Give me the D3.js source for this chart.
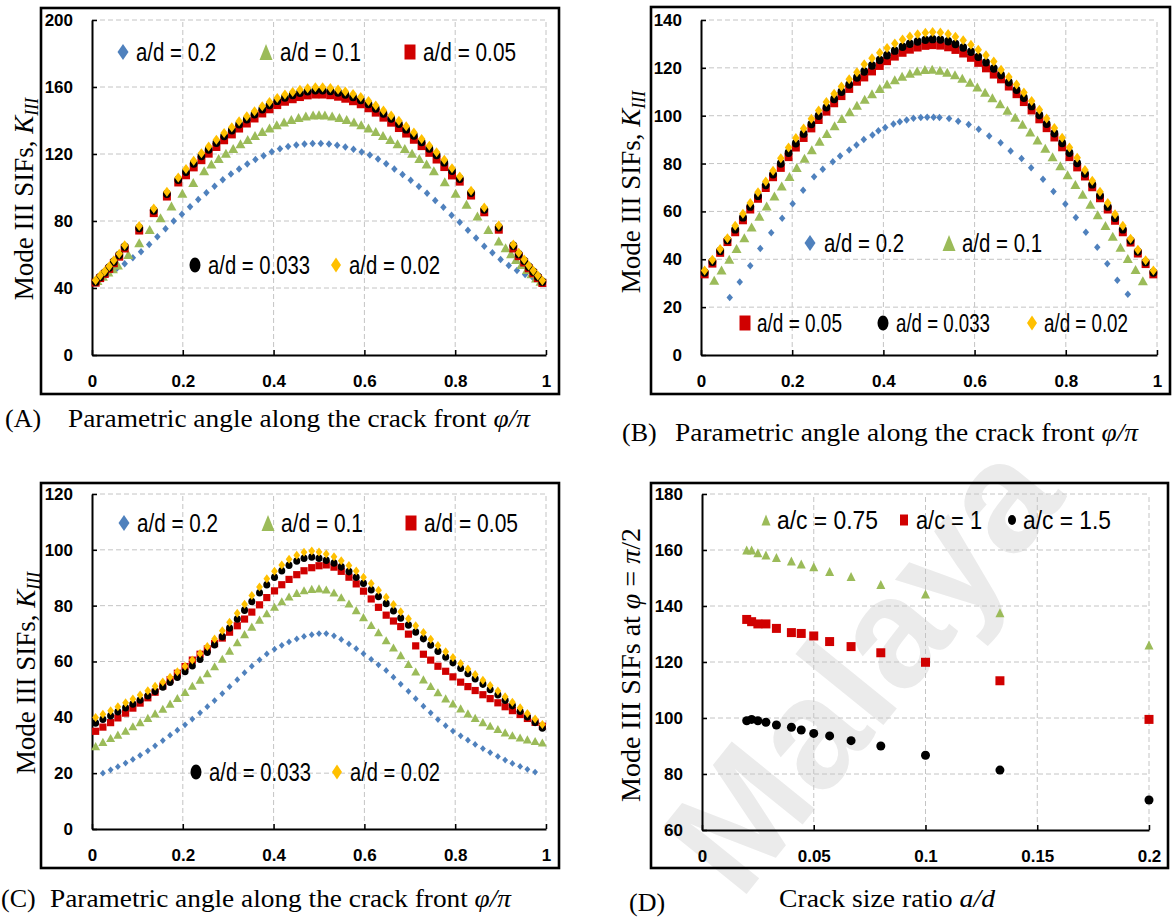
<!DOCTYPE html>
<html>
<head>
<meta charset="utf-8">
<script src="https://cdn.jsdelivr.net/npm/d3@7"></script>
<style>
  html, body { margin: 0; padding: 0; background: #fff; }
  svg { display: block; }
</style>
</head>
<body>
<svg id="fig" width="1176" height="922"></svg>
<script>
// ---------- axis ticks ----------
const phiTicks = [0, 0.2, 0.4, 0.6, 0.8, 1];
const kTicksA = [0, 40, 80, 120, 160, 200];
const kTicksB = [0, 20, 40, 60, 80, 100, 120, 140];
const kTicksC = [0, 20, 40, 60, 80, 100, 120];
const kTicksD = [60, 80, 100, 120, 140, 160, 180];
const ratioTicks = [0, 0.05, 0.1, 0.15, 0.2];

const labelsAD = ["a/d = 0.2", "a/d = 0.1", "a/d = 0.05", "a/d = 0.033", "a/d = 0.02"];
const labelsAC = ["a/c = 0.75", "a/c = 1", "a/c = 1.5"];

// ---------- panel (A) ----------
const phiA = [0.008,0.018,0.028,0.038,0.048,0.060,0.072,0.104,0.136,0.165,0.190,
  0.207,0.224,0.241,0.257,0.274,0.291,0.308,0.324,0.341,0.358,
  0.375,0.391,0.408,0.425,0.442,0.458,0.475,0.492,0.508,0.525,
  0.542,0.558,0.575,0.592,0.609,0.625,0.642,0.659,0.676,0.692,
  0.709,0.726,0.743,0.759,0.776,0.793,
  0.810,0.835,0.864,0.896,0.928,0.940,0.952,0.962,0.972,0.982,0.992];
const kA_002 = [44.6,47.4,50,53,56.5,60.5,65.5,77,87.5,97.5,106,
  111,116,120.5,124.5,128.5,132.5,136,139.5,142.5,145.5,
  148.5,151,153.5,155.5,157,158.3,159.3,159.8,159.8,159.4,
  158.5,157.3,155.8,154,151.6,149,146,143,139.8,136.5,
  132.8,129,125,121,116.5,111.5,
  106.5,98,88,77.5,66,61,57,53.5,50.5,47.5,44.5];
const kA_0033 = [43.8,46.6,49.2,52.2,55.7,59.7,64.7,75.8,86.3,96.2,104.6,
  109.4,114.3,118.8,122.7,126.7,130.7,134.2,137.7,140.7,143.7,
  146.7,149.2,151.7,153.7,155.2,156.5,157.5,158,158,157.6,
  156.7,155.5,154,152.2,149.8,147.2,144.2,141.2,138,134.7,
  131,127.2,123.3,119.4,115,110,
  105.2,96.8,86.8,76.3,65.2,60.2,56.2,52.7,49.7,46.7,43.7];
const kA_005 = [43.2,45.9,48.4,51.4,54.8,58.7,63.6,74.3,84.7,94.6,103,
  107.3,112,116.3,120.2,124.2,128.2,131.7,135.2,138.2,141.2,
  144.2,146.7,149.2,151.2,152.7,154,155,155.5,155.5,155.1,
  154.2,153,151.5,149.7,147.3,144.7,141.7,138.7,135.5,132.2,
  128.5,124.7,120.7,116.7,112.2,107.2,
  103.5,95.2,85.2,74.8,63.6,59,55.2,51.8,48.8,45.9,43];
const phiA_tri = [0.012,0.024,0.036,0.046,0.057,0.080,0.104,0.127,0.151,0.175,0.199,0.223,0.247,
  0.263,0.279,0.295,0.311,0.327,0.343,0.359,0.375,0.391,0.407,0.423,0.439,0.455,0.471,0.487,
  0.500,
  0.513,0.529,0.545,0.561,0.577,0.593,0.609,0.625,0.641,0.657,0.673,0.689,0.705,0.721,0.737,
  0.753,0.777,0.801,0.825,0.849,0.873,0.896,0.911,0.923,0.934,0.946,0.958,0.968,0.978,0.988];
const kA_01 = [44.5,47,49.5,51.5,53.8,60,67,75,82,89,96.5,103,110,
  114,117.3,120.4,123.3,126.1,128.7,131.1,133.4,135.5,137.4,139.1,140.6,141.8,142.7,143.3,
  143.5,
  143.3,142.7,141.8,140.6,139.1,137.4,135.5,133.4,131.1,128.7,126.1,123.3,120.4,117.3,114,
  110,103.5,96.5,90,83,75,68,64,60.5,57,54,51,48.5,46,44];
const phiA_dot = [0.018,0.036,0.054,0.072,0.090,0.108,0.126,0.144,0.162,0.180,
  0.198,0.216,0.234,0.252,0.270,0.288,0.306,0.324,0.342,0.360,
  0.378,0.396,0.414,0.432,0.450,0.468,0.486,0.504,0.522,0.540,
  0.558,0.576,0.594,0.612,0.630,0.648,0.666,0.684,0.702,0.720,
  0.738,0.756,0.774,0.792,0.810,0.828,0.846,0.864,0.882,0.900,
  0.918,0.936,0.954,0.972,0.990];
const kA_02 = [46,48.5,51.5,54.5,58,61.7,66,70.6,75.4,80,
  84,88.5,92.9,96.8,100.8,104.6,108,111,114,116.7,
  119,121.3,123.2,124.5,125.4,126,126.2,126.2,125.9,125.2,
  124.2,122.8,121.2,119.4,117,114.2,111.1,107.7,104.4,100.6,
  96.6,92.3,88.2,83.5,79.3,74.5,69.8,65,61,57,
  53.5,50.5,48,46,44.5];

// ---------- panel (B) ----------
const phiB = [0.008,0.025,0.042,0.058,0.075,0.092,0.108,0.125,0.142,0.158,
  0.175,0.192,0.208,0.225,0.242,0.258,0.275,0.292,0.308,0.325,
  0.342,0.358,0.375,0.392,0.408,0.425,0.442,0.458,0.475,0.492,
  0.508,0.525,0.542,0.558,0.575,0.592,0.608,0.625,0.642,0.658,
  0.675,0.692,0.708,0.725,0.742,0.758,0.775,0.792,0.808,0.825,
  0.842,0.858,0.875,0.892,0.908,0.925,0.942,0.958,0.975,0.992];
const kB_0033 = [34.5,39,43.5,48,52.5,57.5,62,66.5,71,75.5,
  80,84.5,88.5,92.5,96.5,100,103.5,107,110,113,
  116,118.5,121,123.3,125.3,127.2,128.8,130.1,131,131.7,
  132,131.8,131.1,130,128.5,126.7,124.6,122.3,119.7,117,
  114,110.8,107.5,104,100.3,96.6,92.7,88.6,84.5,80.2,
  75.8,71.3,66.7,62,57.3,52.5,47.8,43.2,38.8,34.5];
const kB_002 = [35.3,39.8,44.3,48.8,54,59,63.5,68,72.5,77,
  82.2,86.7,90.7,94.7,98.7,102.2,105.7,109.2,112.2,115.2,
  118.2,121.5,124,126.3,128.3,130.2,131.8,133.1,134,134.7,
  135,134.8,134.1,133,131.5,129.7,127.6,125.3,122.7,119.2,
  116.2,113,109.7,106.2,102.5,98.8,94.9,90.8,86.7,82.4,
  77.3,72.8,68.2,63.5,58.8,54,48.6,44,39.6,35.3];
const kB_005 = [33.7,38.2,42.7,47.2,51.3,56.3,60.8,65.3,69.8,74.3,
  78.2,82.7,86.7,90.7,94.7,98.2,101.7,105.2,108.2,111.2,
  114.2,116,118.5,120.8,122.8,124.7,126.3,127.6,128.5,129.2,
  129.5,129.3,128.6,127.5,126,124.2,122.1,119.8,117.2,115.2,
  112.2,109,105.7,102.2,98.5,94.8,90.9,86.8,82.7,78.4,
  74.6,70.1,65.5,60.8,56.1,51.3,47,42.4,38,33.7];
const phiB_tri = [0.029,0.045,0.062,0.078,0.095,0.111,0.128,0.144,0.161,0.177,
  0.194,0.210,0.227,0.243,0.260,0.276,0.293,0.309,0.326,0.342,
  0.359,0.375,0.392,0.408,0.425,0.441,0.458,0.474,0.491,0.507,
  0.524,0.540,0.557,0.573,0.590,0.606,0.623,0.639,0.656,0.672,
  0.689,0.705,0.722,0.738,0.755,0.771,0.788,0.804,0.821,0.837,
  0.854,0.870,0.887,0.903,0.920,0.936,0.953,0.969];
const kB_01 = [31.2,35.5,40,44.5,49,53.5,58,62.3,66.5,70.6,
  74.6,78.4,82.2,85.8,89.3,92.6,95.8,98.8,101.7,104.4,
  106.9,109.2,111.4,113.3,115,116.5,117.7,118.7,119.3,119.4,
  119,118.2,117.1,115.7,114,112,109.8,107.5,105,102.3,
  99.4,96.4,93.2,89.9,86.4,82.8,79.1,75.3,71.3,67.2,
  63,58.6,54.1,49.6,45,40.3,35.7,31];
const phiB_dot = [0.063,0.085,0.108,0.130,0.154,0.178,0.201,0.224,0.248,0.267,
  0.289,0.305,0.325,0.341,0.357,0.376,0.389,0.404,0.422,0.436,
  0.451,0.466,0.482,0.496,0.510,0.523,0.544,0.564,0.587,0.609,
  0.632,0.657,0.679,0.703,0.724,0.750,0.773,0.799,0.822,0.844,
  0.869,0.891,0.913,0.936];
const kB_02 = [24,30.5,37.3,44.5,51.1,57.1,63.2,68.9,74.5,77.6,
  80.8,83.2,85.7,87.8,90.1,91.9,93.7,95.1,96.5,97.5,
  98.2,98.9,99.3,99.4,99.4,99.3,98.8,97.7,96.3,94.3,
  91.5,88.7,85.3,82.1,78.3,73.5,68.3,63.1,57.5,51.3,
  45,38.1,31.2,25.4];

// ---------- panel (C) ----------
const phiC = [0.008,0.024,0.041,0.057,0.074,0.090,0.106,0.123,0.139,0.156,
  0.172,0.188,0.205,0.221,0.238,0.254,0.270,0.287,0.303,0.320,
  0.336,0.352,0.369,0.385,0.402,0.418,0.434,0.451,0.467,0.484,
  0.500,0.516,0.533,0.549,0.566,0.582,0.598,0.615,0.631,0.648,
  0.664,0.680,0.697,0.713,0.730,0.746,0.762,0.779,0.795,0.812,
  0.828,0.844,0.861,0.877,0.894,0.910,0.926,0.943,0.959,0.976,
  0.992];
const kC_002 = [39.9,41.1,42.4,43.8,45.2,46.6,48,49.5,51.1,52.7,
  54.4,56.3,58.3,60.5,62.9,65.4,68.1,71,74.1,77.3,
  80.5,83.6,86.7,89.6,92.3,94.6,96.6,98.1,99.1,99.6,
  99.2,98.5,97.5,96.1,94.4,92.4,90.2,87.9,85.5,83,
  80.4,77.8,75.3,72.8,70.4,68,65.7,63.5,61.4,59.3,
  57.3,55.3,53.3,51.4,49.4,47.4,45.4,43.4,41.4,39.4,
  37.4];
const kC_0033 = [38,39.3,40.6,42,43.4,44.8,46.2,47.7,49.3,50.9,
  52.6,54.4,56.4,58.5,60.8,63.3,66,68.9,72,75.2,
  78.4,81.5,84.6,87.5,90.2,92.5,94.5,96,97,97.4,
  97,96.3,95.3,93.9,92.2,90.2,88,85.7,83.3,80.8,
  78.2,75.6,73.1,70.6,68.2,65.9,63.7,61.6,59.6,57.6,
  55.7,53.8,51.9,50,48.1,46.1,44.2,42.2,40.2,38.2,
  36.2];
const kC_005 = [35,36.5,38.1,39.8,41.5,43.3,45.1,47,49,51.2,
  53.5,55.8,58.2,60.5,62.6,64.5,66.4,68.4,70.5,72.8,
  75.2,77.7,80.3,82.9,85.3,87.5,89.4,91.1,92.5,93.6,
  94.3,94.6,93.8,92.3,90.2,87.8,85.2,82.4,79.4,76.6,
  74.5,72.5,69.8,65.6,62.6,60.5,58.3,56.5,54.5,52.6,
  51,49.6,48.1,46.7,45.2,43.8,42.4,41,39.6,38.2,
  36.8];
const kC_01 = [29.7,31.2,32.6,33.8,35.2,36.8,38.3,39.8,41.4,43.1,
  44.9,46.9,49.1,51.3,53.5,55.8,58.3,61,63.9,66.9,
  69.8,72.5,75,77.3,79.6,81.6,83.3,84.6,85.5,86,
  86.2,85.8,84.7,83,80.8,78.4,75.9,73.1,70.5,67.6,
  65,62.3,59.1,56.4,53.6,51.2,49,46.8,45,43.2,
  41.4,39.8,38.3,37,35.8,34.6,33.6,32.8,32.1,31.5,
  31];
const phiC_dot = phiC.slice(1, 60);
const kC_02 = [20,21.2,22.3,23.6,24.9,26.4,28,29.8,31.7,33.6,
  35.4,37.3,39.4,41.6,43.8,46,48.5,51,53.5,56,
  58.3,60.6,62.7,64.4,65.8,67,68.1,69,69.6,70,
  70,69.2,67.9,66.3,64.6,62.8,60.8,58.8,56.8,54.4,
  51.9,49.3,46.7,44,41.6,39.2,37,35.1,33.4,31.8,
  30.3,28.8,27.4,26,24.7,23.5,22.4,21.4,20.4];

// ---------- panel (D): K_III at phi = pi/2 ----------
const ratioD = [0.02, 0.0222, 0.025, 0.0286, 0.0333, 0.04, 0.0444, 0.05, 0.0571, 0.0667, 0.08, 0.1, 0.1333, 0.2];
const kD_ac075 = [160, 160, 159, 158.2, 157.3, 156.1, 155, 154, 152.3, 150.5, 147.7, 144.3, 137.6, 126.1];
const kD_ac1 = [135.2, 134.4, 133.6, 133.6, 132, 130.5, 130.2, 129.3, 127.3, 125.5, 123.3, 119.9, 113.3, 99.5];
const kD_ac15 = [99, 99.5, 99, 98.5, 97.5, 96.7, 95.7, 94.5, 93.6, 91.9, 90, 86.7, 81.4, 70.7];

// ---------- styling ----------
const BLUE = "#4f81bd", GREEN = "#9bbb59", RED = "#d00000", BLACK = "#000000", GOLD = "#ffc000";
const SANS = "'Liberation Sans', Arial, sans-serif";
const SERIF = "'Liberation Serif', 'Times New Roman', serif";

const svg = d3.select("#fig");

// faint background watermark
svg.append("text")
  .attr("transform", "translate(740,902) rotate(-51)")
  .attr("font-family", SANS)
  .attr("font-weight", "bold")
  .attr("font-size", 156)
  .attr("fill", "#ebebeb")
  .text("Malaya");

function markerPath(type, w, h) {
  const a = w / 2, b = h / 2;
  if (type === "diamond") return `M0,${-b}L${a},0L0,${b}L${-a},0Z`;
  if (type === "triangle") return `M0,${-b}L${a},${b}L${-a},${b}Z`;
  if (type === "square") return `M${-a},${-b}H${a}V${b}H${-a}Z`;
  return `M${-a},0A${a},${b} 0 1,0 ${a},0A${a},${b} 0 1,0 ${-a},0Z`;
}

function drawPanel(p) {
  const g = svg.append("g");
  const [bx0, by0, bx1, by1] = p.box;
  g.append("rect")
    .attr("x", bx0).attr("y", by0)
    .attr("width", bx1 - bx0).attr("height", by1 - by0)
    .attr("fill", "none").attr("stroke", "#000").attr("stroke-width", 2.6);

  const x = d3.scaleLinear().domain(p.xDomain).range([p.plot[0], p.plot[1]]);
  const y = d3.scaleLinear().domain(p.yDomain).range([p.plot[3], p.plot[2]]);

  // dashed grid
  const grid = g.append("g").attr("stroke", "#c4c4c4").attr("stroke-width", 1).attr("stroke-dasharray", "5,3");
  grid.selectAll("line.v").data(p.xTicks.slice(1)).join("line").attr("class", "v")
    .attr("x1", d => x(d)).attr("x2", d => x(d))
    .attr("y1", y(p.yDomain[0])).attr("y2", y(p.yDomain[1]));
  grid.selectAll("line.h").data(p.yTicks.slice(1)).join("line").attr("class", "h")
    .attr("y1", d => y(d)).attr("y2", d => y(d))
    .attr("x1", x(p.xDomain[0])).attr("x2", x(p.xDomain[1]));

  // axes
  const xa = g.append("g").attr("transform", `translate(0,${y(p.yDomain[0])})`)
    .call(d3.axisBottom(x).tickValues(p.xTicks).tickFormat(d => String(d))
      .tickSizeInner(-5).tickSizeOuter(0).tickPadding(20));
  const ya = g.append("g").attr("transform", `translate(${x(p.xDomain[0])},0)`)
    .call(d3.axisLeft(y).tickValues(p.yTicks).tickFormat(d => String(d))
      .tickSizeInner(-5).tickSizeOuter(0).tickPadding(19));
  [xa, ya].forEach(a => {
    a.attr("font-family", SANS).attr("font-size", 17).attr("font-weight", "bold");
    a.select(".domain").attr("stroke-width", 2);
    a.selectAll(".tick line").attr("stroke-width", 1.5);
    a.selectAll(".tick text").attr("fill", "#000");
  });

  // markers
  p.series.forEach(s => {
    g.append("g").selectAll("path").data(d3.zip(s.x, s.y)).join("path")
      .attr("transform", d => `translate(${x(d[0])},${y(d[1])})`)
      .attr("d", markerPath(s.shape, s.w, s.h))
      .attr("fill", s.color);
  });

  // legend
  const lg = g.append("g");
  p.legend.forEach(it => {
    lg.append("path")
      .attr("transform", `translate(${it.mx},${it.my})`)
      .attr("d", markerPath(it.shape, it.w, it.h))
      .attr("fill", it.color);
    lg.append("text")
      .attr("x", it.tx).attr("y", it.my + 9)
      .attr("font-family", SANS).attr("font-size", 26)
      .attr("textLength", it.len).attr("lengthAdjust", "spacingAndGlyphs")
      .attr("fill", "#000")
      .text(it.label);
  });
}

function yTitleK(cx, cy) {
  const t = svg.append("text")
    .attr("transform", `translate(${cx},${cy}) rotate(-90)`)
    .attr("text-anchor", "middle")
    .attr("font-family", SERIF).attr("font-size", 27).attr("fill", "#000");
  t.append("tspan").text("Mode III SIFs, ");
  t.append("tspan").attr("font-style", "italic").text("K");
  t.append("tspan").attr("font-style", "italic").attr("font-size", 18).attr("dy", 5).text("III");
}

function caption(tag, tagX, x, y, len, main, math) {
  svg.append("text").attr("x", tagX).attr("y", y)
    .attr("font-family", SERIF).attr("font-size", 26).attr("fill", "#000").text(tag);
  const t = svg.append("text").attr("x", x).attr("y", y)
    .attr("font-family", SERIF).attr("font-size", 26).attr("fill", "#000")
    .attr("textLength", len).attr("lengthAdjust", "spacingAndGlyphs");
  t.append("tspan").text(main);
  t.append("tspan").attr("font-style", "italic").text(math);
}

const adMarks = [
  { shape: "diamond", w: 6.5, h: 7.5, color: BLUE },
  { shape: "triangle", w: 10, h: 9, color: GREEN },
  { shape: "square", w: 8, h: 8, color: RED },
  { shape: "circle", w: 7.8, h: 8.4, color: BLACK },
  { shape: "diamond", w: 7.5, h: 10, color: GOLD }
];
const adLegendMarks = [
  { shape: "diamond", w: 11, h: 16, color: BLUE },
  { shape: "triangle", w: 13, h: 16, color: GREEN },
  { shape: "square", w: 11, h: 15, color: RED },
  { shape: "circle", w: 11, h: 15, color: BLACK },
  { shape: "diamond", w: 10, h: 15, color: GOLD }
];
function adSeries(xs, ys, sc) {
  return xs.map((xv, i) => Object.assign({ x: xv, y: ys[i] }, adMarks[i], sc ? { w: adMarks[i].w * sc, h: adMarks[i].h * sc } : {}));
}
function adLegend(pos) {
  return pos.map((p, i) => Object.assign({ label: labelsAD[i], mx: p[0], my: p[1], tx: p[2], len: p[3] }, adLegendMarks[i]));
}

// (A)
drawPanel({
  box: [41, 8, 559, 394], plot: [92, 546, 20, 355],
  xDomain: [0, 1], yDomain: [0, 200], xTicks: phiTicks, yTicks: kTicksA,
  series: adSeries([phiA_dot, phiA_tri, phiA, phiA, phiA], [kA_02, kA_01, kA_005, kA_0033, kA_002]),
  legend: adLegend([[123, 52, 136, 80], [266, 52, 280, 81], [410, 52, 423, 93], [195, 265, 208, 102], [336, 265, 349, 91]])
});
yTitleK(33, 199);
caption("(A)", 5, 68, 427, 462, "Parametric angle along the crack front ", "φ/π");

// (B)
drawPanel({
  box: [651, 7, 1170, 394], plot: [701, 1157, 20, 355],
  xDomain: [0, 1], yDomain: [0, 140], xTicks: phiTicks, yTicks: kTicksB,
  series: adSeries([phiB_dot, phiB_tri, phiB, phiB, phiB], [kB_02, kB_01, kB_005, kB_0033, kB_002]),
  legend: adLegend([[810, 243, 824, 80], [949, 243, 962, 80], [745, 323, 757, 85], [883, 323, 896, 94], [1032, 323, 1044, 84]])
});
yTitleK(640, 192);
caption("(B)", 622, 675, 441, 463, "Parametric angle along the crack front ", "φ/π");

// (C)
drawPanel({
  box: [41, 483, 559, 868], plot: [92, 546, 494, 829],
  xDomain: [0, 1], yDomain: [0, 120], xTicks: phiTicks, yTicks: kTicksC,
  series: adSeries([phiC_dot, phiC, phiC, phiC, phiC], [kC_02, kC_01, kC_005, kC_0033, kC_002], 0.9),
  legend: adLegend([[124, 523, 137, 81], [268, 523, 281, 82], [411, 523, 424, 94], [196, 772, 209, 102], [337, 772, 350, 90]])
});
yTitleK(35, 673);
caption("(C)", 1, 50, 907, 461, "Parametric angle along the crack front ", "φ/π");

// (D)
drawPanel({
  box: [651, 483, 1168, 868], plot: [702, 1149, 494, 830],
  xDomain: [0, 0.2], yDomain: [60, 180], xTicks: ratioTicks, yTicks: kTicksD,
  series: [
    { x: ratioD, y: kD_ac075, shape: "triangle", w: 9, h: 9, color: GREEN },
    { x: ratioD, y: kD_ac1, shape: "square", w: 9, h: 9, color: RED },
    { x: ratioD, y: kD_ac15, shape: "circle", w: 9, h: 9, color: BLACK }
  ],
  legend: [
    { label: labelsAC[0], shape: "triangle", w: 9, h: 11, color: GREEN, mx: 766, my: 520, tx: 777, len: 101 },
    { label: labelsAC[1], shape: "square", w: 8, h: 11, color: RED, mx: 904, my: 520, tx: 916, len: 66 },
    { label: labelsAC[2], shape: "circle", w: 8, h: 10, color: BLACK, mx: 1012, my: 520, tx: 1023, len: 88 }
  ]
});
{
  const t = svg.append("text")
    .attr("transform", "translate(640,665) rotate(-90)")
    .attr("text-anchor", "middle")
    .attr("font-family", SERIF).attr("font-size", 28).attr("fill", "#000");
  t.append("tspan").text("Mode III SIFs at  ");
  t.append("tspan").attr("font-style", "italic").text("φ");
  t.append("tspan").text(" = ");
  t.append("tspan").attr("font-style", "italic").text("π");
  t.append("tspan").text("/2");
}
svg.append("text").attr("x", 629).attr("y", 911)
  .attr("font-family", SERIF).attr("font-size", 26).attr("fill", "#000").text("(D)");
{
  const t = svg.append("text").attr("x", 779).attr("y", 907)
    .attr("font-family", SERIF).attr("font-size", 26).attr("fill", "#000")
    .attr("textLength", 216).attr("lengthAdjust", "spacingAndGlyphs");
  t.append("tspan").text("Crack size ratio ");
  t.append("tspan").attr("font-style", "italic").text("a/d");
}
</script>
</body>
</html>
